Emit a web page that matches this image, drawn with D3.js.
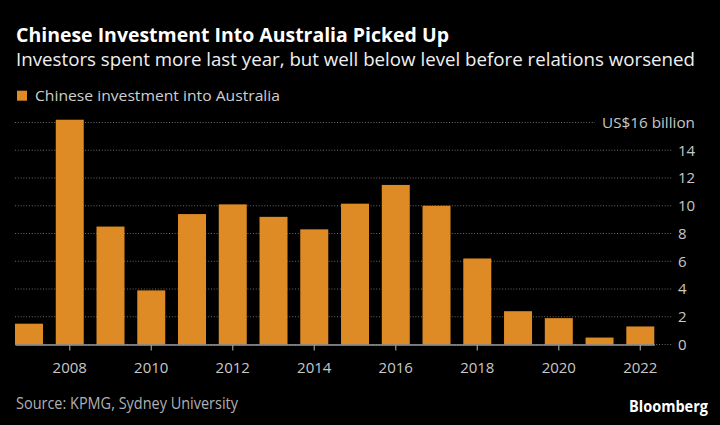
<!DOCTYPE html>
<html>
<head>
<meta charset="utf-8">
<script src="https://cdn.jsdelivr.net/npm/d3@7"></script>
<style>
  html, body { margin: 0; padding: 0; background: #000; }
  svg { display: block; }
  text { font-family: "Open Sans", "Noto Sans", sans-serif; }
</style>
</head>
<body>
<svg id="chart" width="720" height="425"></svg>
<script>
const years = [2007, 2008, 2009, 2010, 2011, 2012, 2013, 2014, 2015, 2016, 2017, 2018, 2019, 2020, 2021, 2022];
const investment = [1.5, 16.2, 8.5, 3.9, 9.4, 10.1, 9.2, 8.3, 10.15, 11.5, 10.0, 6.2, 2.4, 1.9, 0.5, 1.3];
const yTicks = [0, 2, 4, 6, 8, 10, 12, 14, 16];
const xTickYears = [2008, 2010, 2012, 2014, 2016, 2018, 2020, 2022];
const title = "Chinese Investment Into Australia Picked Up";
const subtitle = "Investors spent more last year, but well below level before relations worsened";
const legendLabel = "Chinese investment into Australia";
const source = "Source: KPMG, Sydney University";
const unitLabel = "US$16 billion";

const svg = d3.select("#chart");
const W = 720, H = 425;
svg.append("rect").attr("width", W).attr("height", H).attr("fill", "#000");

const barColor = "#de8b26";

const x = d3.scaleBand().domain(years).range([15, 654.3]).paddingInner(0.313).paddingOuter(0);
const y = d3.scaleLinear().domain([0, 16]).range([344.5, 122.5]);

// Title etc.
function fitText(sel, width) {
  sel.attr("textLength", width).attr("lengthAdjust", "spacingAndGlyphs");
}
svg.append("text").attr("x", 16).attr("y", 42).attr("fill", "#fff")
  .attr("font-size", 19).attr("font-weight", 700).text(title).call(fitText, 433);
svg.append("text").attr("x", 16).attr("y", 66).attr("fill", "#f0f0f0")
  .attr("font-size", 18.5).text(subtitle).call(fitText, 679);

// Legend
svg.append("rect").attr("x", 17).attr("y", 90.7).attr("width", 10).attr("height", 10).attr("fill", barColor);
svg.append("text").attr("x", 35).attr("y", 100.7).attr("fill", "#cfcfcf")
  .attr("font-size", 15).text(legendLabel).call(fitText, 245);

// Gridlines
const grid = svg.append("g");
yTicks.forEach(t => {
  const x2 = t === 16 ? 595 : 672;
  grid.append("line")
    .attr("x1", 15).attr("x2", x2)
    .attr("y1", y(t)).attr("y2", y(t))
    .attr("stroke", "#6a6a6a").attr("stroke-width", 1)
    .attr("stroke-dasharray", "1,1.8");
});

// Y labels
const yAxis = svg.append("g");
yTicks.forEach(t => {
  if (t === 16) {
    yAxis.append("text").attr("x", 695).attr("y", y(t)).attr("dy", "0.36em")
      .attr("text-anchor", "end").attr("fill", "#c8c8c8").attr("font-size", 15)
      .text(unitLabel).call(fitText, 93);
  } else {
    yAxis.append("text").attr("x", 678).attr("y", y(t)).attr("dy", "0.36em")
      .attr("fill", "#c8c8c8").attr("font-size", 15).text(t);
  }
});

// Bars
svg.append("g").selectAll("rect").data(years).join("rect")
  .attr("x", d => x(d))
  .attr("width", x.bandwidth())
  .attr("y", (d, i) => y(investment[i]))
  .attr("height", (d, i) => y(0) - y(investment[i]))
  .attr("fill", barColor);

// X axis
const xAxis = d3.axisBottom(x).tickValues(xTickYears).tickSize(6).tickPadding(8).tickSizeOuter(0);
const gx = svg.append("g").attr("transform", `translate(0,${y(0)})`).call(xAxis);
gx.select(".domain").attr("stroke", "#9a9a9a").attr("stroke-width", 1.5);
gx.selectAll(".tick line").attr("stroke", "#9a9a9a").attr("stroke-width", 1.2);
gx.selectAll(".tick text").attr("fill", "#c8c8c8").attr("font-size", 15)
  .attr("font-family", "'Open Sans', sans-serif").attr("dy", null).attr("y", 28.8);

// Footer
svg.append("text").attr("x", 16).attr("y", 409).attr("fill", "#b0b0b0")
  .attr("font-size", 15.5).text(source).call(fitText, 222);
svg.append("text").attr("x", 708).attr("y", 411.5).attr("text-anchor", "end").attr("fill", "#fff")
  .attr("font-size", 15.5).attr("font-weight", 700).text("Bloomberg").call(fitText, 79);
</script>
</body>
</html>
